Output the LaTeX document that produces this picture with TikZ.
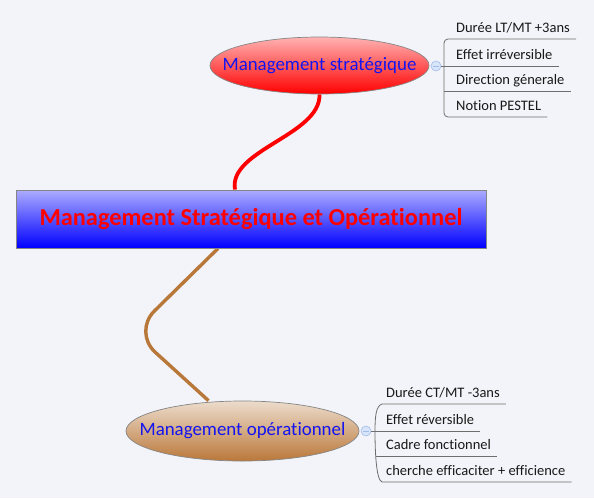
\documentclass[tikz,border=0pt]{standalone}
\usepackage{fontspec}
\setmainfont[Ligatures=NoCommon]{Carlito}
\usetikzlibrary{shapes.geometric,calc}
\definecolor{bg}{HTML}{F3F4F9}
\definecolor{branchgray}{HTML}{6E6E6E}
\definecolor{bordergray}{HTML}{858585}
\definecolor{linkbrown}{HTML}{B8783A}
\definecolor{circfill}{HTML}{D8E5F9}
\definecolor{circdraw}{HTML}{A3BCEA}
\pgfdeclarelayer{bgl}
\pgfdeclarelayer{links}
\pgfsetlayers{bgl,links,main}
\tikzset{
  mainbox/.style={draw=bordergray, line width=0.9pt, rectangle, inner sep=0pt,
    minimum width=470pt, minimum height=58pt,
    top color={rgb,255:red,172;green,172;blue,255}, bottom color={rgb,255:red,0;green,0;blue,255},
    text=red, font=\fontsize{24.4}{28}\selectfont\bfseries},
  topic/.style={draw=bordergray, line width=0.7pt, ellipse, inner xsep=-30pt, inner ysep=0pt,
    text={rgb,255:red,20;green,20;blue,240}, font=\fontsize{18.9}{22}\selectfont},
  redtopic/.style={topic, minimum width=219pt, minimum height=57pt,
    top color={rgb,255:red,255;green,178;blue,178}, middle color={rgb,255:red,255;green,45;blue,45},
    bottom color={rgb,255:red,255;green,0;blue,0}},
  browntopic/.style={topic, minimum width=233pt, minimum height=60pt,
    top color={rgb,255:red,236;green,220;blue,204}, middle color={rgb,255:red,214;green,170;blue,124},
    bottom color={rgb,255:red,186;green,120;blue,58}},
  item/.style={anchor=base west, inner sep=0pt, text={rgb,255:red,25;green,25;blue,25},
    font=\fontsize{14.5}{17}\selectfont},
  branch/.style={draw=branchgray, line width=0.8pt},
  collapse/.style={circle, draw=circdraw, fill=circfill, line width=0.6pt, minimum size=10pt, inner sep=0pt,
    path picture={\draw[circdraw, line width=0.8pt] ([xshift=-3pt]path picture bounding box.center) -- ([xshift=3pt]path picture bounding box.center);}},
}
\begin{document}
\begin{tikzpicture}[x=1pt,y=-1pt]
\begin{pgfonlayer}{bgl}
\fill[bg] (0,0) rectangle (594,498);
\end{pgfonlayer}
\useasboundingbox (0,0) rectangle (594,498);

% main nodes
\node[mainbox] (main) at (251,219) {Management Stratégique et Opérationnel};
\node[redtopic] (ms) at (319.5,65.5) {Management stratégique};
\node[browntopic] (mo) at (242.5,431) {Management opérationnel};

% collapse markers
\node[collapse] (c1) at (436,66) {};
\node[collapse] (c2) at (366,431) {};

% strategic items
\node[item] (s1) at (456,32) {Durée LT/MT +3ans};
\node[item] (s2) at (456,59) {Effet irréversible};
\node[item] (s3) at (456,84) {Direction génerale};
\node[item] (s4) at (456,110) {Notion PESTEL};

% operational items
\node[item] (o1) at (386,397) {Durée CT/MT -3ans};
\node[item] (o2) at (386,424) {Effet réversible};
\node[item] (o3) at (386,449) {Cadre fonctionnel};
\node[item] (o4) at (386,475) {cherche efficaciter + efficience};

\coordinate (st) at (444,39);
\coordinate (sb) at (444,117);
\coordinate (sm3) at (444,91);

% strategic branch lines
\draw[branch, rounded corners=4pt] ($(s1.base east)+(6,7)$) -- (st) -- (sb) -- ($(s4.base east)+(6,7)$);
\draw[branch] (c1.east) -- ($(s2.base east)+(6,7)$);
\draw[branch] (sm3) -- ($(s3.base east)+(6,7)$);

% operational branch lines
\coordinate (ot) at (382,404);
\coordinate (ob) at (382,482);
\coordinate (om3) at (376,456);
\draw[branch] ($(o1.base east)+(6,7)$) -- (ot) .. controls (376,406) and (375,416) .. (375,431)
  .. controls (375,450) and (376,480) .. (ob) -- ($(o4.base east)+(6,7)$);
\draw[branch] (c2.east) -- ($(o2.base east)+(6,7)$);
\draw[branch] (om3) -- ($(o3.base east)+(6,7)$);

% links
\coordinate (bend) at (133,332);
\begin{pgfonlayer}{links}
\draw[red, line width=3.8pt] (ms.south) .. controls (321,135) and (228,150) .. ([xshift=-16pt]main.north);
\draw[linkbrown, line width=3.4pt, rounded corners=30pt] ([xshift=-33pt]main.south) -- (bend) -- ([xshift=-34pt]mo.north);
\end{pgfonlayer}
\end{tikzpicture}
\end{document}
